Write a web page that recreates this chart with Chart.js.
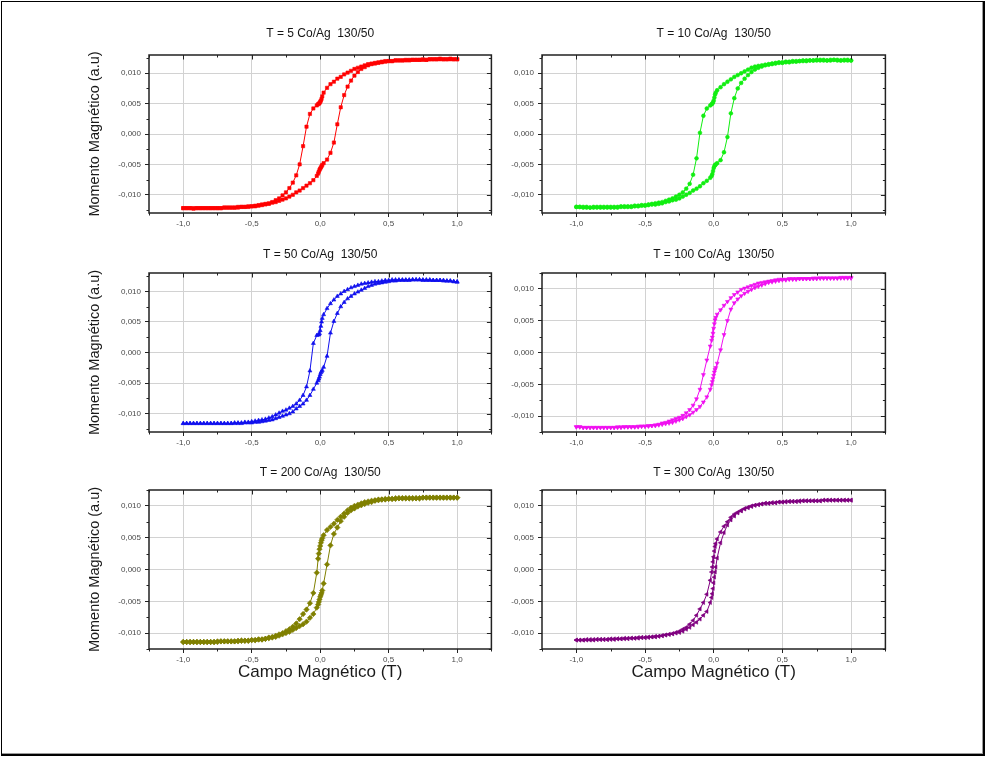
<!DOCTYPE html>
<html>
<head>
<meta charset="utf-8">
<script src="https://cdn.jsdelivr.net/npm/chart.js@4.4.1/dist/chart.umd.min.js"></script>
<style>
html,body{margin:0;padding:0;background:#fff;}
body{width:985px;height:757px;position:relative;overflow:hidden;}
#frame{position:absolute;left:1px;top:1px;width:981px;height:752px;border-left:1px solid #000;border-top:1px solid #000;border-right:2px solid #000;border-bottom:2px solid #000;box-shadow:inset -1px -1px 0 #9a9a9a;box-sizing:content-box;}
canvas{position:absolute;}
</style>
</head>
<body>
<div id="frame"></div>
<script>
// ---------------- DATA ----------------
const titles = ["T = 5 Co/Ag  130/50","T = 10 Co/Ag  130/50","T = 50 Co/Ag  130/50","T = 100 Co/Ag  130/50","T = 200 Co/Ag  130/50","T = 300 Co/Ag  130/50"];
const xAxisTitle = "Campo Magnético (T)";
const yAxisTitle = "Momento Magnético (a.u)";

const xTickValues = [-1, -0.5, 0, 0.5, 1];
const xTickLabels = ["-1,0","-0,5","0,0","0,5","1,0"];
const xMinorValues = [-1.25,-0.75,-0.25,0.25,0.75,1.25];
const yTickValues = [-0.01,-0.005,0,0.005,0.01];
const yTickLabels = ["-0,010","-0,005","0,000","0,005","0,010"];
const yMinorValues = [-0.0125,-0.0075,-0.0025,0.0025,0.0075,0.0125];

// field sweep (T): descending branch and ascending branch
const fieldDown = [1.000,0.975,0.950,0.925,0.900,0.875,0.850,0.825,0.800,0.775,0.750,0.725,0.700,0.675,0.650,0.625,0.600,0.575,0.550,0.525,0.500,0.475,0.450,0.425,0.400,0.375,0.350,0.325,0.300,0.275,0.250,0.225,0.200,0.175,0.150,0.125,0.100,0.075,0.050,0.025,0.015,0.010,0.005,0.000,-0.005,-0.010,-0.015,-0.025,-0.050,-0.075,-0.100,-0.125,-0.150,-0.175,-0.200,-0.225,-0.250,-0.275,-0.300,-0.325,-0.350,-0.375,-0.400,-0.425,-0.450,-0.475,-0.500,-0.525,-0.550,-0.575,-0.600,-0.625,-0.650,-0.675,-0.700,-0.725,-0.750,-0.775,-0.800,-0.825,-0.850,-0.875,-0.900,-0.925,-0.950,-0.975,-1.000];
const fieldUp = [-1.000,-0.975,-0.950,-0.925,-0.900,-0.875,-0.850,-0.825,-0.800,-0.775,-0.750,-0.725,-0.700,-0.675,-0.650,-0.625,-0.600,-0.575,-0.550,-0.525,-0.500,-0.475,-0.450,-0.425,-0.400,-0.375,-0.350,-0.325,-0.300,-0.275,-0.250,-0.225,-0.200,-0.175,-0.150,-0.125,-0.100,-0.075,-0.050,-0.025,-0.015,-0.010,-0.005,0.000,0.005,0.010,0.015,0.025,0.050,0.075,0.100,0.125,0.150,0.175,0.200,0.225,0.250,0.275,0.300,0.325,0.350,0.375,0.400,0.425,0.450,0.475,0.500,0.525,0.550,0.575,0.600,0.625,0.650,0.675,0.700,0.725,0.750,0.775,0.800,0.825,0.850,0.875,0.900,0.925,0.950,0.975,1.000];

// T = 5
const m5Down = [0.0123,0.0123,0.0124,0.0123,0.0123,0.0124,0.0123,0.0123,0.0123,
0.0122,0.0123,0.0122,0.0122,0.0122,0.0121,0.0122,0.0121,
0.0121,0.0121,0.0120,0.0120,0.0120,0.0119,0.0118,0.0117,
0.0116,0.0115,0.0113,0.0111,0.0109,0.0107,0.0104,0.0101,
0.0098,0.0094,0.0091,0.0086,0.0082,0.0076,0.0068,
0.0062,0.0058,0.0055,0.0053,0.0051,0.0050,0.0049,
0.0047,0.0042,0.0033,0.0012,-0.0020,-0.0050,-0.0068,
-0.0080,-0.0089,-0.0096,-0.0101,-0.0106,-0.0109,-0.0112,-0.0114,
-0.0115,-0.0116,-0.0117,-0.0118,-0.0119,-0.0119,-0.0120,-0.0120,
-0.0120,-0.0121,-0.0121,-0.0121,-0.0121,-0.0122,-0.0122,-0.0122,
-0.0122,-0.0122,-0.0122,-0.0122,-0.0122,-0.0122,-0.0122,-0.0122,-0.0122];
const m5Up = [-0.0122,-0.0122,-0.0122,-0.0123,-0.0122,-0.0122,-0.0122,-0.0122,-0.0122,
-0.0122,-0.0122,-0.0122,-0.0121,-0.0121,-0.0121,-0.0121,-0.0121,
-0.0120,-0.0120,-0.0120,-0.0119,-0.0119,-0.0118,-0.0117,-0.0116,
-0.0115,-0.0113,-0.0112,-0.0110,-0.0108,-0.0106,-0.0103,-0.0100,
-0.0096,-0.0093,-0.0089,-0.0085,-0.0081,-0.0076,-0.0069,
-0.0065,-0.0062,-0.0059,-0.0057,-0.0055,-0.0053,-0.0051,
-0.0048,-0.0042,-0.0031,-0.0014,0.0016,0.0044,0.0064,
0.0078,0.0088,0.0096,0.0102,0.0107,0.0110,0.0113,0.0115,
0.0116,0.0117,0.0118,0.0119,0.0120,0.0120,0.0121,0.0121,
0.0121,0.0121,0.0122,0.0122,0.0122,0.0122,0.0122,0.0122,
0.0123,0.0123,0.0123,0.0123,0.0123,0.0123,0.0123,0.0123,0.0123];

// T = 10
const m10Down = [0.0121,0.0122,0.0122,0.0121,0.0122,0.0122,0.0122,0.0121,0.0122,
0.0122,0.0122,0.0121,0.0121,0.0121,0.0121,0.0120,0.0120,
0.0120,0.0119,0.0119,0.0118,0.0118,0.0117,0.0116,0.0115,
0.0114,0.0113,0.0112,0.0111,0.0109,0.0106,0.0103,0.0100,
0.0097,0.0094,0.0090,0.0086,0.0082,0.0077,0.0072,
0.0068,0.0065,0.0060,0.0055,0.0052,0.0050,0.0049,
0.0047,0.0042,0.0030,0.0002,-0.0040,-0.0067,-0.0082,
-0.0090,-0.0096,-0.0100,-0.0103,-0.0106,-0.0108,-0.0110,-0.0112,
-0.0113,-0.0114,-0.0115,-0.0116,-0.0117,-0.0117,-0.0118,-0.0118,
-0.0119,-0.0119,-0.0119,-0.0119,-0.0120,-0.0120,-0.0120,-0.0120,
-0.0120,-0.0120,-0.0120,-0.0120,-0.0121,-0.0120,-0.0120,-0.0120,-0.0120];
const m10Up = [-0.0120,-0.0120,-0.0121,-0.0121,-0.0121,-0.0121,-0.0121,-0.0121,-0.0121,
-0.0121,-0.0121,-0.0121,-0.0121,-0.0120,-0.0120,-0.0120,-0.0120,
-0.0119,-0.0119,-0.0118,-0.0118,-0.0117,-0.0116,-0.0116,-0.0115,
-0.0114,-0.0112,-0.0111,-0.0109,-0.0108,-0.0106,-0.0103,-0.0100,
-0.0097,-0.0093,-0.0090,-0.0086,-0.0081,-0.0077,-0.0072,
-0.0069,-0.0066,-0.0061,-0.0056,-0.0053,-0.0051,-0.0050,
-0.0048,-0.0043,-0.0030,-0.0005,0.0034,0.0059,0.0075,
0.0084,0.0091,0.0097,0.0102,0.0106,0.0109,0.0111,0.0113,
0.0114,0.0115,0.0116,0.0117,0.0117,0.0118,0.0118,0.0119,
0.0119,0.0120,0.0120,0.0120,0.0121,0.0121,0.0121,0.0121,
0.0121,0.0121,0.0121,0.0122,0.0121,0.0121,0.0121,0.0121,0.0121];

// T = 50
const m50Down = [0.0115,0.0116,0.0117,0.0117,0.0118,0.0118,0.0118,0.0118,0.0119,
0.0119,0.0119,0.0119,0.0119,0.0119,0.0119,0.0119,0.0119,
0.0119,0.0119,0.0119,0.0118,0.0118,0.0117,0.0116,0.0116,
0.0115,0.0114,0.0113,0.0112,0.0110,0.0108,0.0106,0.0103,
0.0100,0.0096,0.0092,0.0086,0.0080,0.0072,0.0062,
0.0056,0.0050,0.0043,0.0036,0.0031,0.0029,0.0029,
0.0028,0.0015,-0.0030,-0.0056,-0.0070,-0.0078,-0.0084,
-0.0088,-0.0091,-0.0094,-0.0096,-0.0099,-0.0102,-0.0105,-0.0107,
-0.0109,-0.0110,-0.0111,-0.0112,-0.0113,-0.0114,-0.0114,-0.0115,
-0.0115,-0.0115,-0.0116,-0.0116,-0.0116,-0.0116,-0.0116,-0.0116,
-0.0116,-0.0116,-0.0116,-0.0116,-0.0116,-0.0116,-0.0116,-0.0116,-0.0116];
const m50Up = [-0.0116,-0.0116,-0.0116,-0.0116,-0.0116,-0.0116,-0.0116,-0.0116,-0.0116,
-0.0116,-0.0116,-0.0116,-0.0116,-0.0116,-0.0116,-0.0116,-0.0116,
-0.0116,-0.0115,-0.0115,-0.0115,-0.0114,-0.0114,-0.0113,-0.0112,
-0.0111,-0.0110,-0.0108,-0.0106,-0.0104,-0.0102,-0.0100,-0.0097,
-0.0092,-0.0088,-0.0084,-0.0078,-0.0070,-0.0060,-0.0050,
-0.0046,-0.0043,-0.0040,-0.0036,-0.0033,-0.0031,-0.0029,
-0.0024,-0.0006,0.0032,0.0051,0.0064,0.0075,0.0082,
0.0088,0.0092,0.0096,0.0099,0.0102,0.0105,0.0108,0.0110,
0.0112,0.0113,0.0114,0.0115,0.0116,0.0117,0.0117,0.0118,
0.0118,0.0118,0.0118,0.0119,0.0119,0.0119,0.0118,0.0118,
0.0118,0.0118,0.0118,0.0118,0.0117,0.0117,0.0117,0.0116,0.0116];

// T = 100
const m100Down = [0.0118,0.0118,0.0118,0.0118,0.0117,0.0117,0.0117,0.0117,0.0117,
0.0117,0.0117,0.0117,0.0116,0.0116,0.0116,0.0116,0.0116,
0.0116,0.0116,0.0115,0.0115,0.0115,0.0114,0.0113,0.0112,
0.0111,0.0110,0.0109,0.0107,0.0105,0.0103,0.0101,0.0099,
0.0095,0.0091,0.0086,0.0080,0.0074,0.0067,0.0060,
0.0055,0.0051,0.0045,0.0038,0.0030,0.0024,0.0019,
0.0010,-0.0012,-0.0035,-0.0058,-0.0073,-0.0083,-0.0090,
-0.0095,-0.0099,-0.0102,-0.0104,-0.0106,-0.0108,-0.0110,-0.0111,
-0.0113,-0.0114,-0.0115,-0.0115,-0.0116,-0.0116,-0.0116,-0.0117,
-0.0117,-0.0117,-0.0117,-0.0117,-0.0117,-0.0118,-0.0118,-0.0118,
-0.0118,-0.0118,-0.0118,-0.0118,-0.0118,-0.0118,-0.0118,-0.0117,-0.0117];
const m100Up = [-0.0117,-0.0117,-0.0118,-0.0118,-0.0118,-0.0118,-0.0118,-0.0118,-0.0118,
-0.0118,-0.0118,-0.0118,-0.0118,-0.0118,-0.0117,-0.0117,-0.0117,
-0.0117,-0.0117,-0.0116,-0.0116,-0.0116,-0.0115,-0.0115,-0.0114,
-0.0113,-0.0112,-0.0111,-0.0110,-0.0108,-0.0106,-0.0104,-0.0101,
-0.0098,-0.0094,-0.0090,-0.0085,-0.0078,-0.0070,-0.0058,
-0.0051,-0.0046,-0.0041,-0.0036,-0.0031,-0.0027,-0.0024,
-0.0017,0.0004,0.0028,0.0050,0.0068,0.0078,0.0084,
0.0089,0.0093,0.0096,0.0099,0.0102,0.0104,0.0106,0.0108,
0.0110,0.0111,0.0112,0.0113,0.0114,0.0114,0.0115,0.0115,
0.0115,0.0116,0.0116,0.0116,0.0116,0.0116,0.0116,0.0117,
0.0117,0.0117,0.0117,0.0117,0.0117,0.0117,0.0117,0.0117,0.0117];

// T = 200
const m200Down = [0.0113,0.0113,0.0113,0.0113,0.0113,0.0113,0.0113,0.0113,0.0113,
0.0113,0.0113,0.0112,0.0112,0.0112,0.0112,0.0112,0.0112,
0.0112,0.0112,0.0111,0.0111,0.0111,0.0110,0.0110,0.0109,
0.0108,0.0107,0.0106,0.0104,0.0102,0.0100,0.0097,0.0093,
0.0088,0.0083,0.0078,0.0072,0.0067,0.0062,0.0054,
0.0049,0.0046,0.0042,0.0037,0.0032,0.0025,0.0017,
-0.0005,-0.0037,-0.0053,-0.0063,-0.0070,-0.0078,-0.0085,
-0.0090,-0.0094,-0.0097,-0.0100,-0.0102,-0.0104,-0.0106,-0.0107,
-0.0109,-0.0110,-0.0110,-0.0111,-0.0111,-0.0112,-0.0112,-0.0112,
-0.0113,-0.0113,-0.0113,-0.0113,-0.0113,-0.0113,-0.0113,-0.0114,
-0.0114,-0.0114,-0.0114,-0.0114,-0.0114,-0.0114,-0.0114,-0.0114,-0.0114];
const m200Up = [-0.0114,-0.0114,-0.0114,-0.0114,-0.0114,-0.0114,-0.0114,-0.0114,-0.0114,
-0.0114,-0.0114,-0.0113,-0.0113,-0.0113,-0.0113,-0.0113,-0.0112,
-0.0112,-0.0112,-0.0112,-0.0111,-0.0111,-0.0110,-0.0110,-0.0109,
-0.0108,-0.0107,-0.0106,-0.0104,-0.0102,-0.0100,-0.0098,-0.0095,
-0.0092,-0.0089,-0.0086,-0.0082,-0.0076,-0.0070,-0.0060,
-0.0055,-0.0051,-0.0047,-0.0043,-0.0040,-0.0037,-0.0033,
-0.0022,0.0008,0.0038,0.0056,0.0066,0.0076,0.0083,
0.0089,0.0093,0.0096,0.0099,0.0101,0.0103,0.0105,0.0106,
0.0108,0.0109,0.0110,0.0110,0.0111,0.0111,0.0111,0.0112,
0.0112,0.0112,0.0112,0.0112,0.0112,0.0112,0.0113,0.0113,
0.0113,0.0113,0.0113,0.0113,0.0113,0.0113,0.0113,0.0113,0.0113];

// T = 300
const m300Down = [0.0109,0.0109,0.0109,0.0109,0.0109,0.0109,0.0109,0.0109,0.0109,
0.0108,0.0108,0.0108,0.0108,0.0108,0.0108,0.0108,0.0107,
0.0107,0.0107,0.0107,0.0106,0.0106,0.0105,0.0105,0.0104,
0.0104,0.0103,0.0102,0.0101,0.0100,0.0098,0.0096,0.0093,
0.0090,0.0087,0.0082,0.0075,0.0068,0.0059,0.0048,
0.0041,0.0036,0.0029,0.0020,0.0012,0.0004,-0.0004,
-0.0017,-0.0039,-0.0052,-0.0062,-0.0072,-0.0080,-0.0086,
-0.0091,-0.0094,-0.0097,-0.0099,-0.0101,-0.0102,-0.0103,-0.0104,
-0.0105,-0.0106,-0.0106,-0.0107,-0.0107,-0.0107,-0.0108,-0.0108,
-0.0108,-0.0109,-0.0109,-0.0109,-0.0109,-0.0110,-0.0110,-0.0110,
-0.0110,-0.0110,-0.0110,-0.0111,-0.0111,-0.0111,-0.0111,-0.0111,-0.0111];
const m300Up = [-0.0111,-0.0111,-0.0111,-0.0110,-0.0110,-0.0110,-0.0110,-0.0110,-0.0110,
-0.0110,-0.0109,-0.0109,-0.0109,-0.0109,-0.0108,-0.0108,-0.0108,
-0.0108,-0.0107,-0.0107,-0.0107,-0.0106,-0.0106,-0.0105,-0.0105,
-0.0104,-0.0103,-0.0102,-0.0101,-0.0100,-0.0099,-0.0097,-0.0094,
-0.0091,-0.0087,-0.0083,-0.0078,-0.0072,-0.0066,-0.0052,
-0.0044,-0.0038,-0.0030,-0.0021,-0.0012,-0.0004,0.0004,
0.0018,0.0042,0.0058,0.0070,0.0078,0.0084,0.0089,
0.0092,0.0095,0.0097,0.0099,0.0101,0.0102,0.0103,0.0104,
0.0104,0.0105,0.0105,0.0106,0.0106,0.0106,0.0107,0.0107,
0.0107,0.0107,0.0108,0.0108,0.0108,0.0108,0.0108,0.0108,
0.0109,0.0109,0.0109,0.0109,0.0109,0.0109,0.0109,0.0109,0.0109];

// ---------------- LAYOUT / STYLE ----------------
const FONT = "'Liberation Sans', Arial, Helvetica, sans-serif";
Chart.defaults.font.family = FONT;

const cols = [{L:149, R:493, yW:70}, {L:542, R:887, yW:50}];
const rows = [
  {T:55,  B:213, pt:11.1, pb:14.5, xH:22},
  {T:273, B:432, pt:14.8, pb:10.8, xH:22},
  {T:490, B:649, pt:15.8, pb:9.8,  xH:35}
];
const panels = [
  {down:m5Down,   up:m5Up,   color:'#ff0000', style:'rect',     rot:0,   r:2.3, lim:0.013},
  {down:m10Down,  up:m10Up,  color:'#11ee11', style:'circle',   rot:0,   r:1.9, lim:0.013},
  {down:m50Down,  up:m50Up,  color:'#1010ee', style:'triangle', rot:0,   r:2.3, lim:0.013},
  {down:m100Down, up:m100Up, color:'#f010f0', style:'triangle', rot:180, r:2.3, lim:0.0125},
  {down:m200Down, up:m200Up, color:'#808000', style:'rectRot',  rot:0,   r:2.7, lim:0.0125},
  {down:m300Down, up:m300Up, color:'#800080', style:'triangle', rot:270, r:2.3, lim:0.0125}
];

const framePlugin = {
  id: 'frameTicks',
  afterDraw(chart) {
    const {ctx, chartArea: a, scales: {x, y}} = chart;
    ctx.save();
    ctx.strokeStyle = '#222';
    ctx.lineWidth = 1;
    ctx.beginPath();
    xTickValues.forEach(v => {
      const p = Math.round(x.getPixelForValue(v)) + 0.5;
      ctx.moveTo(p, a.top); ctx.lineTo(p, a.top + 4.5);
    });
    xMinorValues.forEach(v => {
      const p = Math.round(x.getPixelForValue(v)) + 0.5;
      ctx.moveTo(p, a.top); ctx.lineTo(p, a.top + 2.5);
      ctx.moveTo(p, a.bottom); ctx.lineTo(p, a.bottom + 2.5);
    });
    yTickValues.forEach(v => {
      const p = Math.round(y.getPixelForValue(v)) + 0.5;
      ctx.moveTo(a.right, p); ctx.lineTo(a.right - 4.5, p);
    });
    yMinorValues.forEach(v => {
      if (v < y.min || v > y.max) return;
      const p = Math.round(y.getPixelForValue(v)) + 0.5;
      ctx.moveTo(a.left, p); ctx.lineTo(a.left - 2.5, p);
      ctx.moveTo(a.right, p); ctx.lineTo(a.right - 2.5, p);
    });
    ctx.stroke();
    ctx.lineWidth = 1.5;
    ctx.strokeRect(a.left, a.top, a.right - a.left, a.bottom - a.top);
    ctx.restore();
  }
};

panels.forEach((pn, i) => {
  const c = cols[i % 2], r = rows[Math.floor(i / 2)];
  const left = c.L - c.yW, top = r.T - 40;
  const w = c.R - left + 3, h = r.B - top + r.xH;
  const cv = document.createElement('canvas');
  cv.width = w; cv.height = h;
  cv.style.left = left + 'px'; cv.style.top = top + 'px';
  cv.style.width = w + 'px'; cv.style.height = h + 'px';
  document.body.appendChild(cv);

  const pts = fieldDown.map((f, k) => ({x: f, y: pn.down[k]}))
    .concat(fieldUp.map((f, k) => ({x: f, y: pn.up[k]})));
  const isLeft = (i % 2) === 0, isBottom = Math.floor(i / 2) === 2;

  new Chart(cv, {
    type: 'scatter',
    data: { datasets: [{
      data: pts, showLine: true, tension: 0,
      borderColor: pn.color, backgroundColor: pn.color, borderWidth: 1,
      pointStyle: pn.style, rotation: pn.rot, pointRadius: pn.r,
      pointBorderColor: pn.color, pointBackgroundColor: pn.color, pointBorderWidth: 0.6
    }]},
    options: {
      responsive: false, animation: false, devicePixelRatio: 1,
      layout: { padding: {left: 0, top: 0, right: 3, bottom: 0} },
      plugins: {
        legend: {display: false}, tooltip: {enabled: false},
        title: { display: true, text: titles[i], fullSize: false, color: '#151515',
                 font: {size: 12, family: FONT, weight: 'normal'},
                 padding: {top: r.pt, bottom: r.pb} }
      },
      scales: {
        x: {
          type: 'linear', min: -1.25, max: 1.25,
          afterBuildTicks: s => { s.ticks = xTickValues.map(v => ({value: v})); },
          afterFit: s => { s.height = r.xH; },
          ticks: { callback: (v, k) => xTickLabels[k], color: '#4a4a4a', font: {size: 8}, padding: 2, maxRotation: 0, autoSkip: false },
          grid: { color: '#d2d2d2', lineWidth: 1, tickColor: '#222', tickLength: 4 },
          border: { display: false },
          title: { display: isBottom, text: xAxisTitle, color: '#1a1a1a', font: {size: 17}, padding: {top: 0, bottom: 1.3} }
        },
        y: {
          type: 'linear', min: -pn.lim, max: pn.lim,
          afterBuildTicks: s => { s.ticks = yTickValues.map(v => ({value: v})); },
          afterFit: s => { s.width = c.yW; },
          ticks: { callback: (v, k) => yTickLabels[k], color: '#4a4a4a', font: {size: 8}, padding: 4, autoSkip: false },
          grid: { color: '#d2d2d2', lineWidth: 1, tickColor: '#222', tickLength: 4 },
          border: { display: false },
          title: { display: isLeft, text: yAxisTitle, color: '#1a1a1a', font: {size: 14.5}, padding: {top: 7.3, bottom: 0} }
        }
      }
    },
    plugins: [framePlugin]
  });
});
</script>
</body>
</html>
